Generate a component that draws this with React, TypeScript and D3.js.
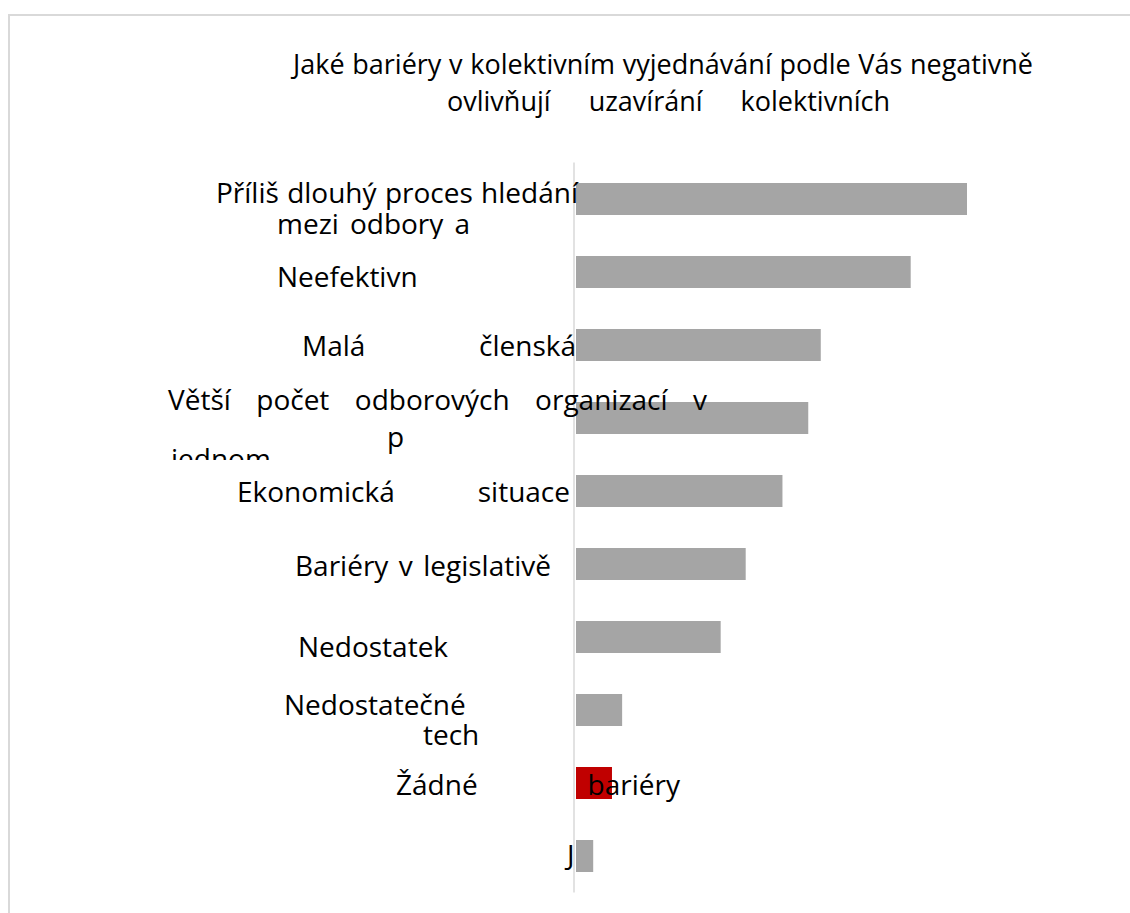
import React, { useEffect, useRef } from "react";
import * as d3 from "d3";

// ---- data ----
const titleLines: string[] = [
  "Jaké bariéry v kolektivním vyjednávání podle Vás negativně",
  "ovlivňují uzavírání kolektivních",
];

const categoryLabels: string[][] = [
  ["Příliš dlouhý proces hledání", "mezi odbory a"],
  ["Neefektivn"],
  ["Malá členská"],
  ["Větší počet odborových organizací v", "p", "jednom"],
  ["Ekonomická situace"],
  ["Bariéry v legislativě"],
  ["Nedostatek"],
  ["Nedostatečné", "tech"],
  ["Žádné bariéry"],
  ["J"],
];

const values: number[] = [50, 42.8, 31.3, 29.7, 26.4, 21.7, 18.5, 5.9, 4.6, 2.2];
const highlighted: boolean[] = [false, false, false, false, false, false, false, false, true, false];

// ---- layout (positions of label lines: start x, end x for justified lines, baseline offset from band centre, clip) ----
type LineLayout = { x0: number; x1?: number; dy: number; clip?: number };
const labelLayout: LineLayout[][] = [
  [{ x0: 216, x1: 578, dy: 3.5 }, { x0: 277, x1: 470, dy: 34.5, clip: 239 }],
  [{ x0: 277, dy: 14.5 }],
  [{ x0: 302, x1: 576, dy: 10.5 }],
  [{ x0: 168, x1: 707, dy: -8.5 }, { x0: 387, dy: 28.5 }, { x0: 171, dy: 50.5, clip: 460 }],
  [{ x0: 237, x1: 570, dy: 10.5 }],
  [{ x0: 295, x1: 551, dy: 12 }],
  [{ x0: 298, dy: 19.5 }],
  [{ x0: 284, dy: 4.5 }, { x0: 423, dy: 34.5 }],
  [{ x0: 396, x1: 680, dy: 11.5 }],
  [{ x0: 567, dy: 8.5 }],
];
const titleLayout: LineLayout[] = [
  { x0: 293, x1: 1033, dy: 74 },
  { x0: 447, x1: 890, dy: 111 },
];

const FONT = "'Open Sans', 'Noto Sans', 'DejaVu Sans', sans-serif";

export default function App() {
  const ref = useRef<SVGSVGElement>(null);

  useEffect(() => {
    const draw = () => {
      const svg = d3.select(ref.current);
      svg.selectAll("*").remove();
      const defs = svg.append("defs");

      // frame
      svg
        .append("rect")
        .attr("x", 9)
        .attr("y", 15)
        .attr("width", 1200)
        .attr("height", 1000)
        .attr("fill", "#fff")
        .attr("stroke", "#d9d9d9")
        .attr("stroke-width", 2);

      const y = d3
        .scaleBand<number>()
        .domain(d3.range(values.length))
        .range([162.5, 892.5])
        .paddingInner(0.5616)
        .paddingOuter(0.2808);

      const x = d3.scaleLinear().domain([0, 50]).range([576, 967]);

      // bars
      svg
        .append("g")
        .selectAll("rect")
        .data(values)
        .join("rect")
        .attr("x", x(0))
        .attr("y", (_, i) => y(i)!)
        .attr("width", (d) => x(d) - x(0))
        .attr("height", y.bandwidth())
        .attr("fill", (_, i) => (highlighted[i] ? "#c00000" : "#a5a5a5"));

      // axis line
      svg
        .append("line")
        .attr("x1", 574)
        .attr("x2", 574)
        .attr("y1", 162.5)
        .attr("y2", 892.5)
        .attr("stroke", "#d9d9d9")
        .attr("stroke-width", 1.5);

      let clipId = 0;
      const writeLine = (
        text: string,
        lay: LineLayout,
        baseline: number,
        size: number
      ) => {
        const g = svg.append("g");
        if (lay.clip !== undefined) {
          const id = "clip" + clipId++;
          defs
            .append("clipPath")
            .attr("id", id)
            .append("rect")
            .attr("x", 0)
            .attr("y", 0)
            .attr("width", 1130)
            .attr("height", lay.clip);
          g.attr("clip-path", `url(#${id})`);
        }
        const t = g
          .append("text")
          .attr("y", baseline)
          .attr("font-family", FONT)
          .attr("font-size", size)
          .attr("fill", "#000");
        const words = text.split(" ");
        const spans = words.map((w) => t.append("tspan").text(w));
        const widths = spans.map(
          (s) => (s.node() as SVGTextContentElement).getComputedTextLength()
        );
        const total = d3.sum(widths);
        const gap =
          words.length > 1 && lay.x1 !== undefined
            ? (lay.x1 - lay.x0 - total) / (words.length - 1)
            : size * 0.26;
        let cx = lay.x0;
        spans.forEach((s, i) => {
          s.attr("x", cx);
          cx += widths[i] + gap;
        });
      };

      // title
      titleLines.forEach((line, i) => writeLine(line, titleLayout[i], titleLayout[i].dy, 27));

      // category labels
      categoryLabels.forEach((lines, ci) => {
        const center = y(ci)! + y.bandwidth() / 2;
        lines.forEach((line, li) => {
          const lay = labelLayout[ci][li];
          writeLine(line, lay, center + lay.dy, 28);
        });
      });
    };
    if ((document as any).fonts && (document as any).fonts.ready) {
      (document as any).fonts.ready.then(draw);
    } else draw();
  }, []);

  return (
    <svg
      ref={ref}
      width={1130}
      height={913}
      style={{ position: "absolute", left: 0, top: 0, background: "#fff" }}
    />
  );
}
